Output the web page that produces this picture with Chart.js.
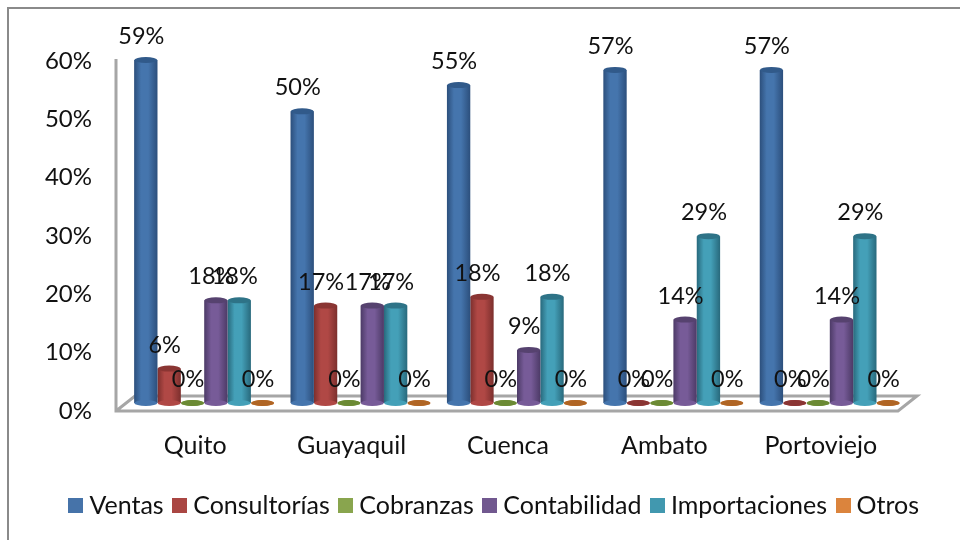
<!DOCTYPE html>
<html>
<head>
<meta charset="utf-8">
<style>
  html, body { margin: 0; padding: 0; background: #fff; }
  #wrap { width: 960px; height: 540px; position: relative; overflow: hidden; }
  #frame { position: absolute; left: 7px; top: 7px; width: 960px; height: 540px; border: 2px solid #8a8a8a; box-sizing: border-box; }
</style>
<script src="https://cdn.jsdelivr.net/npm/chart.js@4/dist/chart.umd.min.js"></script>
</head>
<body>
<div id="wrap">
  <div id="frame"></div>
  <canvas id="barChart" width="960" height="540" style="position:absolute;left:0;top:0"></canvas>
</div>
<script>
var cities = ['Quito', 'Guayaquil', 'Cuenca', 'Ambato', 'Portoviejo'];
var ventas = [58.8, 50, 54.5, 57.1, 57.1];
var consultorias = [5.9, 16.7, 18.2, 0, 0];
var cobranzas = [0, 0, 0, 0, 0];
var contabilidad = [17.6, 16.7, 9.1, 14.3, 14.3];
var importaciones = [17.6, 16.7, 18.2, 28.6, 28.6];
var otros = [0, 0, 0, 0, 0];

var FONT = 'Lato, Carlito, sans-serif';
var TEXT = '#111111';

// [legend colour, dark edge, mid, top cap]
var shades = {
  Ventas: ['#4673a9', '#2c4f7c', '#4575ad', '#315a8a'],
  Consultorias: ['#aa4643', '#7c2f2d', '#b04845', '#8a3533'],
  Cobranzas: ['#89a54e', '#5f7a2e', '#7a9a3e', '#6b8a34'],
  Contabilidad: ['#71588f', '#4c3a66', '#775b98', '#56426f'],
  Importaciones: ['#4198af', '#28697c', '#44a0b8', '#2e7387'],
  Otros: ['#db843d', '#a85c20', '#c9762f', '#b06524']
};

function cylinderFill(name) {
  return function (c) {
    var s = shades[name];
    var chart = c.chart, x = chart.scales.x;
    if (!x || c.dataIndex === undefined) return s[0];
    var catW = x.width / cities.length;
    var w = catW * 0.896 / 6;
    var cx = x.getPixelForValue(c.dataIndex) + (c.datasetIndex - 2.5) * w;
    var g = chart.ctx.createLinearGradient(cx - w / 2, 0, cx + w / 2, 0);
    g.addColorStop(0, s[1]);
    g.addColorStop(0.3, s[2]);
    g.addColorStop(0.6, s[2]);
    g.addColorStop(1, s[1]);
    return g;
  };
}

function makeSet(label, data, name) {
  return {
    label: label,
    data: data,
    yAxisID: 'y',
    backgroundColor: cylinderFill(name),
    borderWidth: 0,
    categoryPercentage: 0.896,
    barPercentage: 1,
    shadeName: name
  };
}

// legend square as a small canvas so the gap to the text stays tight
function swatch(color) {
  var cv = document.createElement('canvas');
  cv.width = 15;
  cv.height = 15;
  var g = cv.getContext('2d');
  g.fillStyle = color;
  g.fillRect(0, 0, 15, 15);
  return cv;
}

// floor and back edge of the 3d box, tied to the scales
var floorPlugin = {
  id: 'floor',
  beforeDatasetsDraw: function (chart) {
    var a = chart.chartArea, c = chart.ctx;
    c.save();
    c.strokeStyle = '#a6a6a6';
    c.lineWidth = 3;
    c.lineJoin = 'miter';
    c.beginPath();
    c.moveTo(a.left - 10, a.top + 6);
    c.lineTo(a.left - 10, a.bottom + 8);
    c.lineTo(a.right - 10, a.bottom + 8);
    c.lineTo(a.right + 9, a.bottom - 7);
    c.lineTo(a.left + 9, a.bottom - 7);
    c.lineTo(a.left - 10, a.bottom + 8);
    c.stroke();
    c.restore();
  }
};

// elliptical caps and bottoms of the cylinders, plus the value labels
var cylinderPlugin = {
  id: 'cylinder',
  afterDatasetsDraw: function (chart) {
    var c = chart.ctx;
    chart.data.datasets.forEach(function (ds, i) {
      var s = shades[ds.shadeName];
      chart.getDatasetMeta(i).data.forEach(function (bar) {
        var rx = bar.width / 2, ry = 3;
        c.save();
        c.fillStyle = s[2];
        c.beginPath();
        c.ellipse(bar.x, bar.base, rx - 0.2, ry, 0, 0, Math.PI * 2);
        c.fill();
        c.fillStyle = s[3];
        c.beginPath();
        c.ellipse(bar.x, bar.y, rx - 0.2, ry, 0, 0, Math.PI * 2);
        c.fill();
        c.restore();
      });
    });
    c.save();
    c.fillStyle = TEXT;
    c.font = '23.5px ' + FONT;
    c.textAlign = 'center';
    c.textBaseline = 'middle';
    chart.data.datasets.forEach(function (ds, i) {
      chart.getDatasetMeta(i).data.forEach(function (bar, j) {
        c.fillText(Math.round(ds.data[j]) + '%', bar.x - 4.5, bar.y - 23.5);
      });
    });
    c.restore();
  }
};

new Chart(document.getElementById('barChart'), {
  type: 'bar',
  data: {
    labels: cities,
    datasets: [
      makeSet('Ventas', ventas, 'Ventas'),
      makeSet('Consultorías', consultorias, 'Consultorias'),
      makeSet('Cobranzas', cobranzas, 'Cobranzas'),
      makeSet('Contabilidad', contabilidad, 'Contabilidad'),
      makeSet('Importaciones', importaciones, 'Importaciones'),
      makeSet('Otros', otros, 'Otros')
    ]
  },
  options: {
    responsive: false,
    animation: false,
    layout: { padding: { left: 44, right: 10, top: 53, bottom: 12 } },
    scales: {
      x: {
        grid: { display: false },
        border: { display: false },
        afterFit: function (s) { s.height = 75; },
        ticks: { color: TEXT, padding: 20, labelOffset: -9, maxRotation: 0, font: { family: FONT, size: 25 } }
      },
      y: {
        min: 0,
        max: 60,
        grid: { display: false },
        border: { display: false },
        afterFit: function (s) { s.width = 82; },
        ticks: {
          stepSize: 10,
          color: TEXT,
          padding: 26,
          labelOffset: 8,
          font: { family: FONT, size: 24 },
          callback: function (v) { return v + '%'; }
        }
      },
      // empty axis, only keeps the plot clear of the right edge
      spacer: {
        position: 'right',
        grid: { display: false },
        border: { display: false },
        ticks: { display: false },
        afterFit: function (s) { s.width = 42; }
      }
    },
    plugins: {
      tooltip: { enabled: false },
      legend: {
        position: 'bottom',
        labels: {
          usePointStyle: true,
          pointStyleWidth: 2,
          padding: 15,
          color: TEXT,
          font: { family: FONT, size: 25 },
          generateLabels: function (chart) {
            return chart.data.datasets.map(function (ds, i) {
              return { text: ds.label, pointStyle: swatch(shades[ds.shadeName][0]), fillStyle: shades[ds.shadeName][0], lineWidth: 0, datasetIndex: i, fontColor: TEXT };
            });
          }
        }
      }
    }
  },
  plugins: [floorPlugin, cylinderPlugin]
});
</script>
</body>
</html>
